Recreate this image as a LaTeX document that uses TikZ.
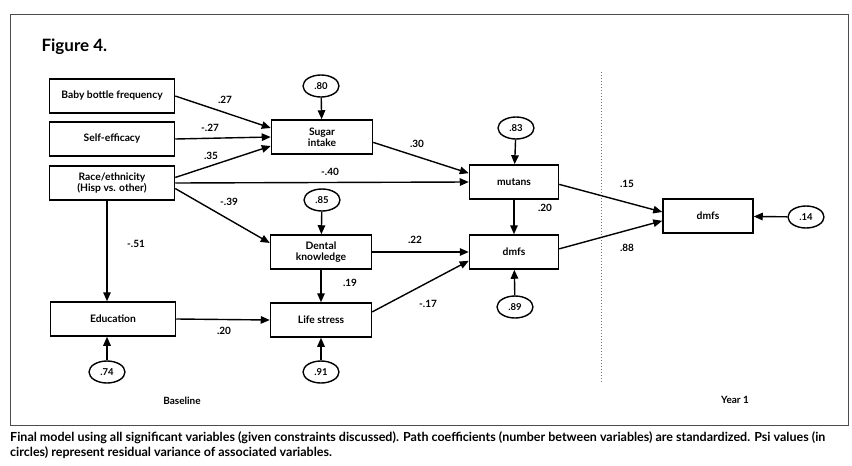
\documentclass[tikz,border=0pt]{standalone}
\usepackage{fontspec}
\setmainfont{Lato}
\usetikzlibrary{shapes.geometric,arrows.meta}

\begin{document}
\begin{tikzpicture}[x=1pt,y=-1pt]
\tikzset{varbox/.style={draw, line width=1.5pt, minimum height=34pt, align=center, inner sep=1pt, font=\fontsize{10.3}{11}\selectfont\bfseries},
psi/.style={draw, ellipse, line width=1.4pt, minimum width=36pt, minimum height=22pt, inner sep=0pt, font=\fontsize{9.5}{10}\selectfont\bfseries},
coef/.style={inner sep=1pt, font=\fontsize{10}{11}\selectfont\bfseries},
arr/.style={line width=1.4pt, -{Triangle[length=9pt,width=7.5pt]}}}
\useasboundingbox (0,0) rectangle (852,466);
\draw[line width=1pt, black!70] (10,14) rectangle (848,425);
\node[anchor=west, font=\fontsize{17}{19}\selectfont\bfseries] (title) at (38,47) {Figure 4.};
% baseline variables
\node[varbox, minimum width=125pt] (baby) at (112,96) {Baby bottle frequency};
\node[varbox, minimum width=125pt] (self) at (112,139) {Self-efficacy};
\node[varbox, minimum width=125pt] (race) at (112,183) {Race/ethnicity\\(Hisp vs. other)};
\node[varbox, minimum width=125pt] (edu) at (113,319) {Education};
\node[varbox, minimum width=101pt] (sugar) at (322,137) {Sugar\\intake};
\node[varbox, minimum width=101pt] (dental) at (321,252) {Dental\\knowledge};
\node[varbox, minimum width=101pt] (life) at (321,320) {Life stress};
\node[varbox, minimum width=89pt] (mutans) at (514,182) {mutans};
\node[varbox, minimum width=89pt] (dmfs) at (514,252) {dmfs};
% year 1
\node[varbox, minimum width=90pt] (dmfsa) at (708,216) {dmfs};
% psi values
\node[psi] (p80) at (321,86) {.80};
\node[psi] (p85) at (322,200) {.85};
\node[psi] (p74) at (107,372) {.74};
\node[psi] (p91) at (321,372) {.91};
\node[psi] (p83) at (516,128) {.83};
\node[psi] (p89) at (515,307) {.89};
\node[psi] (p14) at (806,217) {.14};
\draw[dotted, line width=1pt, black!55] (601,72) -- (601,383);
\draw[arr] (baby.east) -- (sugar.170);
\draw[arr] (self.east) -- (sugar.west);
\draw[arr] (race.5) -- (sugar.190);
\draw[arr] (race.east) -- (mutans.west);
\draw[arr] (race.-5) -- (dental.170);
\draw[arr] (race.south -| p74) -- (edu.north -| p74);
\draw[arr] (edu.east) -- (life.west);
\draw[arr] (sugar.-6) -- (mutans.169);
\draw[arr] (dental.east) -- (dmfs.west);
\draw[arr] (life.9) -- (dmfs.191);
\draw[arr] (dental) -- (life);
\draw[arr] (mutans) -- (dmfs);
\draw[arr] (mutans.-3) -- (dmfsa.175);
\draw[arr] (dmfs.4) -- (dmfsa.186);
\draw[arr] (p80) -- (sugar);
\draw[arr] (p85) -- (dental);
\draw[arr] (p83) -- (mutans);
\draw[arr] (p89) -- (dmfs);
\draw[arr] (p91) -- (life);
\draw[arr] (p74) -- (edu.south -| p74);
\draw[arr] (p14) -- (dmfsa);
% path coefficients
\node[coef] (c1) at (225,100) {.27};
\node[coef] (c2) at (210,128) {-.27};
\node[coef] (c3) at (211,156) {.35};
\node[coef] (c4) at (330,172) {-.40};
\node[coef] (c5) at (229,202) {-.39};
\node[coef] (c6) at (417,144) {.30};
\node[coef] (c7) at (136,244) {-.51};
\node[coef] (c8) at (415,240) {.22};
\node[coef] (c9) at (350,283) {.19};
\node[coef] (c10) at (224,331) {.20};
\node[coef] (c11) at (428,304) {-.17};
\node[coef] (c12) at (545,208) {.20};
\node[coef] (c13) at (627,184) {.15};
\node[coef] (c14) at (627,248) {.88};
\node[coef] (base) at (182,401) {Baseline};
\node[coef] (year) at (735,400) {Year 1};
\node[anchor=north west, align=left, inner sep=0pt, font=\fontsize{12.5}{15}\selectfont\bfseries] (caption) at (10,431) {Final model using all significant variables (given constraints discussed). Path coefficients (number between variables) are standardized. Psi values (in\\circles) represent residual variance of associated variables.};
\end{tikzpicture}
\end{document}
